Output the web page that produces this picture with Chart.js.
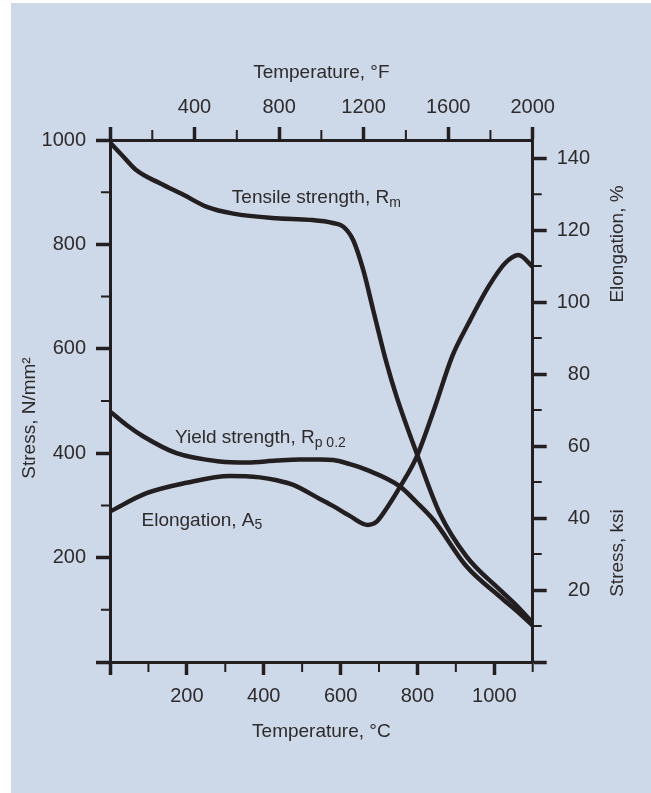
<!DOCTYPE html>
<html lang="en">
<head>
<meta charset="UTF-8">
<meta name="viewport" content="width=device-width, initial-scale=1.0">
<title>Strength and elongation vs temperature</title>
<script src="https://cdn.jsdelivr.net/npm/chart.js"></script>
<style>
    html, body { margin: 0; padding: 0; background: #fff; }
    #panel { position: absolute; left: 11px; top: 3px; right: 0; bottom: 0; background: #cdd8e9; }
    #chart { position: absolute; left: 0; top: 0; }
</style>
</head>
<body>
<div id="panel"></div>
<canvas id="chart" width="651" height="793"></canvas>
<script>
    // values (temperature in °C)
    const tensileTemp   = [0, 35, 69, 130, 191, 252, 321, 434, 520, 580, 607, 633, 659, 685, 720, 746, 798, 858, 928, 1015, 1058, 1100];
    const tensileStress = [995, 968, 942, 917, 895, 872, 859, 850, 847, 841, 834, 808, 751, 674, 572, 508, 400, 285, 202, 138, 108, 75];

    const yieldTemp   = [0, 43, 87, 173, 286, 356, 434, 494, 546, 581, 624, 668, 755, 798, 842, 928, 1015, 1058, 1100];
    const yieldStress = [480, 454, 432, 400, 384, 382, 386, 388, 388, 387, 379, 368, 336, 306, 272, 183, 125, 98, 70];

    const elongTemp = [0, 95, 199, 312, 390, 434, 477, 546, 581, 624, 671, 694, 720, 755, 798, 846, 890, 933, 985, 1028, 1063, 1100];
    const elongPct  = [41.8, 46.9, 49.8, 51.7, 51.3, 50.5, 49.2, 45.3, 43.3, 40.6, 38.1, 39.0, 42.7, 48.7, 57.0, 71.0, 84.8, 94.1, 104.3, 110.8, 113.1, 109.8];

    const ink = '#231f20';
    const textColor = '#2e2b2c';
    const family = "'Liberation Sans', Arial, sans-serif";

    Chart.defaults.font.family = family;
    Chart.defaults.color = textColor;

    // curve captions, anchored in data units (°C, N/mm²)
    const captions = [
        { text: 'Tensile strength, R', sub: 'm', x: 317, y: 880, drop: 4 },
        { text: 'Yield strength, R', sub: 'p 0.2', x: 169, y: 419, drop: 4 },
        { text: 'Elongation, A', sub: '5', x: 82, y: 261, drop: 3 }
    ];

    const pairs = (xs, ys) => xs.map((x, i) => ({ x: x, y: ys[i] }));

    const border = { display: true, color: ink, width: 3 };
    function ticksGrid(len, isMajor) {
        return {
            drawOnChartArea: false,
            drawTicks: true,
            tickLength: len,
            tickWidth: 3.5,
            tickColor: c => (c.tick && isMajor(c.tick.value)) ? ink : 'transparent'
        };
    }

    function curve(label, data, axis) {
        return {
            label: label,
            data: data,
            yAxisID: axis,
            borderColor: ink,
            backgroundColor: ink,
            borderWidth: 4.5,
            pointRadius: 0,
            cubicInterpolationMode: 'monotone',
            fill: false
        };
    }

    const extras = {
        id: 'extras',
        afterDraw(chart) {
            const { ctx, chartArea: area, scales } = chart;
            ctx.save();

            // short minor ticks
            ctx.strokeStyle = ink;
            ctx.lineWidth = 2;
            ctx.beginPath();
            const minor = (scale, every, draw) => scale.ticks.forEach(t => {
                if (t.value % every !== 0) draw(scale.getPixelForValue(t.value));
            });
            minor(scales.y, 200, p => { ctx.moveTo(area.left, p); ctx.lineTo(area.left - 9, p); });
            minor(scales.yR, 20, p => { ctx.moveTo(area.right, p); ctx.lineTo(area.right + 9, p); });
            minor(scales.x, 200, p => { ctx.moveTo(p, area.bottom); ctx.lineTo(p, area.bottom + 10); });
            minor(scales.xF, 400, p => { ctx.moveTo(p, area.top); ctx.lineTo(p, area.top - 10); });
            ctx.stroke();

            // vertical axis titles
            ctx.fillStyle = textColor;
            ctx.font = '19px ' + family;
            ctx.textAlign = 'center';
            ctx.textBaseline = 'middle';
            const vtext = (text, x, y) => {
                ctx.save();
                ctx.translate(x, y);
                ctx.rotate(-Math.PI / 2);
                ctx.fillText(text, 0, 0);
                ctx.restore();
            };
            vtext('Stress, N/mm²', 30, 418);
            vtext('Elongation, %', 618, 244);
            vtext('Stress, ksi', 618, 553);

            // curve captions with subscripts
            ctx.textAlign = 'left';
            ctx.textBaseline = 'alphabetic';
            captions.forEach(c => {
                const px = scales.x.getPixelForValue(c.x);
                const py = scales.y.getPixelForValue(c.y);
                ctx.font = '19px ' + family;
                ctx.fillText(c.text, px, py);
                const w = ctx.measureText(c.text).width;
                ctx.font = '14px ' + family;
                ctx.fillText(c.sub, px + w, py + c.drop);
            });

            ctx.restore();
        }
    };

    new Chart(document.getElementById('chart'), {
        type: 'line',
        data: {
            datasets: [
                curve('Tensile strength, Rm', pairs(tensileTemp, tensileStress), 'y'),
                curve('Yield strength, Rp 0.2', pairs(yieldTemp, yieldStress), 'y'),
                curve('Elongation, A5', pairs(elongTemp, elongPct), 'yR')
            ]
        },
        options: {
            responsive: false,
            animation: false,
            layout: { padding: { left: 0, top: 0, bottom: 0, right: 61 } },
            plugins: {
                colors: { enabled: false },
                legend: { display: false },
                tooltip: { enabled: false }
            },
            scales: {
                x: {
                    type: 'linear',
                    position: 'bottom',
                    min: 0,
                    max: 1100,
                    afterFit: s => { s.height = 131; },
                    border: border,
                    grid: ticksGrid(13, v => v % 200 === 0),
                    ticks: {
                        stepSize: 100,
                        autoSkip: false,
                        maxRotation: 0,
                        padding: 9.7,
                        font: { size: 20 },
                        callback: v => (v % 200 === 0 && v !== 0) ? v : ''
                    },
                    title: {
                        display: true,
                        text: 'Temperature, °C',
                        font: { size: 19 },
                        padding: { top: 0, bottom: 50 }
                    }
                },
                xF: {
                    type: 'linear',
                    position: 'top',
                    min: 0,
                    max: 2000,
                    afterFit: s => { s.height = 140; },
                    border: border,
                    grid: ticksGrid(13, v => v % 400 === 0),
                    ticks: {
                        stepSize: 200,
                        autoSkip: false,
                        maxRotation: 0,
                        padding: 8,
                        font: { size: 20 },
                        callback: v => (v % 400 === 0 && v !== 0) ? v : ''
                    },
                    title: {
                        display: true,
                        text: 'Temperature, °F',
                        font: { size: 19 },
                        padding: { top: 61.6, bottom: 0 }
                    }
                },
                y: {
                    type: 'linear',
                    position: 'left',
                    min: 0,
                    max: 1000,
                    afterFit: s => { s.width = 110; },
                    border: border,
                    grid: ticksGrid(14, v => v % 200 === 0),
                    ticks: {
                        stepSize: 100,
                        autoSkip: false,
                        padding: 10,
                        font: { size: 20 },
                        callback: v => (v % 200 === 0 && v !== 0) ? v : ''
                    }
                },
                yR: {
                    type: 'linear',
                    position: 'right',
                    min: 0,
                    max: 145.04,
                    afterFit: s => { s.width = 57.3; },
                    border: border,
                    grid: ticksGrid(14, v => v % 20 === 0),
                    ticks: {
                        stepSize: 10,
                        includeBounds: false,
                        autoSkip: false,
                        crossAlign: 'far',
                        padding: 11.6,
                        font: { size: 20 },
                        callback: v => (v % 20 === 0 && v !== 0) ? v : ''
                    }
                }
            }
        },
        plugins: [extras]
    });
</script>
</body>
</html>
